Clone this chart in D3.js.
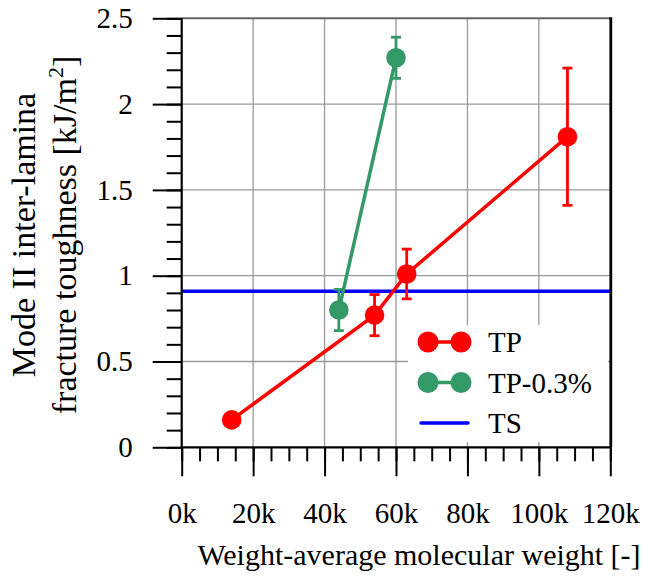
<!DOCTYPE html>
<html>
<head>
<meta charset="utf-8">
<script src="https://cdn.jsdelivr.net/npm/d3@7"></script>
<style>
  html, body { margin: 0; padding: 0; background: #fff; }
  svg text { font-family: "Liberation Serif", "Times New Roman", serif; fill: #000; }
</style>
</head>
<body>
<div id="chart"></div>
<script>
// data
var tpWeight = [14000, 54000, 63000, 108000];
var tpTough = [0.16, 0.77, 1.01, 1.81];
var tpErr = [0, 0.12, 0.145, 0.40];

var tp03Weight = [44000, 60000];
var tp03Tough = [0.80, 2.27];
var tp03Err = [0.12, 0.12];

var tsTough = 0.91;

var xTicks = [0, 20000, 40000, 60000, 80000, 100000, 120000];
var yTicks = [0, 0.5, 1, 1.5, 2, 2.5];
var legendNames = ['TP', 'TP-0.3%', 'TS'];

var red = '#ff0000', green = '#339966', blue = '#0000ff';
var serif = '"Liberation Serif", "Times New Roman", serif';

var width = 654, height = 583;
var plotLeft = 181.7, plotRight = 610.3, plotTop = 18.3, plotBottom = 447.3;

var svg = d3.select('#chart').append('svg')
    .attr('width', width)
    .attr('height', height)
    .attr('font-family', serif);

var x = d3.scaleLinear().domain([0, 120000]).range([plotLeft, plotRight]);
var y = d3.scaleLinear().domain([0, 2.5]).range([plotBottom, plotTop]);

// grid
svg.append('g').selectAll('line')
    .data(xTicks.slice(1, -1))
    .enter().append('line')
    .attr('x1', function(d) { return x(d); })
    .attr('x2', function(d) { return x(d); })
    .attr('y1', plotTop).attr('y2', plotBottom)
    .attr('stroke', '#9a9a9a').attr('stroke-width', 1.3);

svg.append('g').selectAll('line')
    .data(yTicks.slice(1))
    .enter().append('line')
    .attr('x1', plotLeft).attr('x2', plotRight)
    .attr('y1', function(d) { return y(d); })
    .attr('y2', function(d) { return y(d); })
    .attr('stroke', function(d) { return d === 2.5 ? '#666' : '#9a9a9a'; })
    .attr('stroke-width', function(d) { return d === 2.5 ? 2 : 1.3; });

// TS reference line
svg.append('line')
    .attr('x1', x(0)).attr('x2', x(120000))
    .attr('y1', y(tsTough)).attr('y2', y(tsTough))
    .attr('stroke', blue).attr('stroke-width', 3.5);

function drawSeries(xs, ys, errs, color) {
    var pts = xs.map(function(v, i) { return {x: v, y: ys[i], e: errs[i]}; });
    var g = svg.append('g');
    g.append('path')
        .datum(pts)
        .attr('fill', 'none')
        .attr('stroke', color)
        .attr('stroke-width', 3.5)
        .attr('d', d3.line().x(function(d) { return x(d.x); }).y(function(d) { return y(d.y); }));

    var eb = g.selectAll('.err').data(pts.filter(function(d) { return d.e > 0; }))
        .enter().append('g').attr('class', 'err');
    eb.append('line')
        .attr('x1', function(d) { return x(d.x); })
        .attr('x2', function(d) { return x(d.x); })
        .attr('y1', function(d) { return y(d.y - d.e); })
        .attr('y2', function(d) { return y(d.y + d.e); })
        .attr('stroke', color).attr('stroke-width', 2.8);
    [-1, 1].forEach(function(s) {
        eb.append('line')
            .attr('x1', function(d) { return x(d.x) - 5; })
            .attr('x2', function(d) { return x(d.x) + 5; })
            .attr('y1', function(d) { return y(d.y + s * d.e); })
            .attr('y2', function(d) { return y(d.y + s * d.e); })
            .attr('stroke', color).attr('stroke-width', 2.8);
    });

    g.selectAll('circle').data(pts)
        .enter().append('circle')
        .attr('cx', function(d) { return x(d.x); })
        .attr('cy', function(d) { return y(d.y); })
        .attr('r', 9.8)
        .attr('fill', color);
}

drawSeries(tpWeight, tpTough, tpErr, red);
drawSeries(tp03Weight, tp03Tough, tp03Err, green);

// legend
var lg = svg.append('g');
lg.append('rect')
    .attr('x', 408).attr('y', 325).attr('width', 200).attr('height', 117)
    .attr('fill', '#fff');
var legendColors = [red, green, blue];
legendNames.forEach(function(name, i) {
    var cy = 342 + i * 40.5;
    if (i < 2) {
        lg.append('line')
            .attr('x1', 428).attr('x2', 461).attr('y1', cy).attr('y2', cy)
            .attr('stroke', legendColors[i]).attr('stroke-width', 3.5);
        [428, 461].forEach(function(cx) {
            lg.append('circle').attr('cx', cx).attr('cy', cy).attr('r', 10.5)
                .attr('fill', legendColors[i]);
        });
    } else {
        lg.append('line')
            .attr('x1', 421).attr('x2', 468).attr('y1', cy).attr('y2', cy)
            .attr('stroke', legendColors[i]).attr('stroke-width', 3.5)
            .attr('stroke-linecap', 'round');
    }
    lg.append('text')
        .attr('x', 488).attr('y', cy + 10)
        .attr('font-size', 29)
        .attr('font-family', serif)
        .text(name);
});

// axes
var xMajor = d3.axisBottom(x).tickValues(xTicks).tickSize(29).tickPadding(26)
    .tickFormat(function(d) { return (d / 1000) + 'k'; });
var xMinor = d3.axisBottom(x).tickValues(d3.range(0, 120001, 5000)).tickSize(14).tickFormat('');
var yMajor = d3.axisLeft(y).tickValues(yTicks).tickSize(29).tickPadding(20)
    .tickFormat(function(d) { return d; });
var yMinor = d3.axisLeft(y).tickValues(d3.range(0, 2.501, 0.1)).tickSize(15).tickFormat('');

function styleAxis(g) {
    g.select('.domain').remove();
    g.attr('font-family', serif).attr('font-size', 29);
    g.selectAll('line').attr('stroke', '#000').attr('stroke-width', 2);
    g.selectAll('text').attr('fill', '#000');
}

svg.append('g').attr('transform', 'translate(0,' + plotBottom + ')').call(xMinor).call(styleAxis);
svg.append('g').attr('transform', 'translate(0,' + plotBottom + ')').call(xMajor).call(styleAxis);
svg.append('g').attr('transform', 'translate(' + plotLeft + ',0)').call(yMinor).call(styleAxis);
svg.append('g').attr('transform', 'translate(' + plotLeft + ',0)').call(yMajor).call(styleAxis);

// axis lines and right border
svg.append('line').attr('x1', plotLeft).attr('x2', plotLeft).attr('y1', plotTop).attr('y2', plotBottom)
    .attr('stroke', '#000').attr('stroke-width', 2.2);
svg.append('line').attr('x1', plotLeft).attr('x2', plotRight + 1).attr('y1', plotBottom).attr('y2', plotBottom)
    .attr('stroke', '#000').attr('stroke-width', 2.2);
svg.append('line').attr('x1', plotRight + 0.5).attr('x2', plotRight + 0.5).attr('y1', plotTop - 1).attr('y2', plotBottom)
    .attr('stroke', '#000').attr('stroke-width', 2.8);

// titles
svg.append('text')
    .attr('x', 419).attr('y', 565)
    .attr('text-anchor', 'middle')
    .attr('font-size', 30)
    .text('Weight-average molecular weight [-]');

var yt = svg.append('text')
    .attr('transform', 'translate(0,235) rotate(-90)')
    .attr('text-anchor', 'middle')
    .attr('font-size', 34);
yt.append('tspan').attr('x', 0).attr('y', 35).text('Mode II inter-lamina');
var t2 = yt.append('tspan').attr('x', 0).attr('y', 76);
t2.append('tspan').text('fracture toughness [kJ/m');
t2.append('tspan').attr('font-size', 22).attr('dy', -13).text('2');
t2.append('tspan').attr('dy', 13).text(']');
</script>
</body>
</html>
